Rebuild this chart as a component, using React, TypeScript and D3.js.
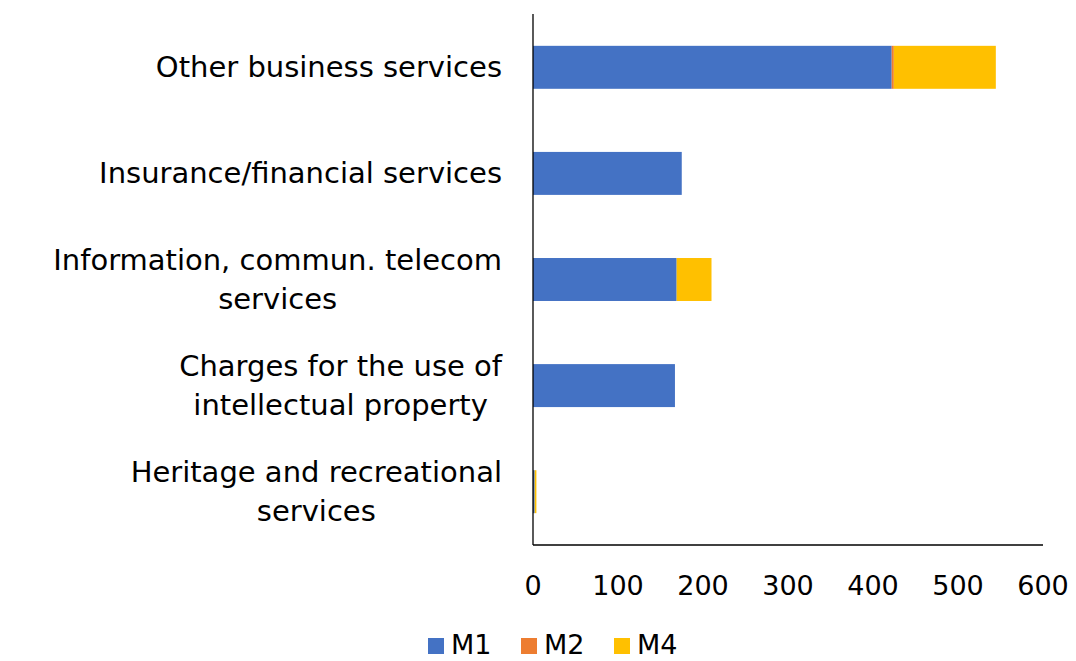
import React, { useEffect, useRef } from "react";
import * as d3 from "d3";

const categories = [
  ["Other business services"],
  ["Insurance/financial services"],
  ["Information, commun. telecom", "services"],
  ["Charges for the use of", "intellectual property"],
  ["Heritage and recreational", "services"],
];
const seriesNames = ["M1", "M2", "M4"];
const seriesColors = ["#4472C4", "#ED7D31", "#FFC000"];
const m1 = [422, 175, 169, 167, 2];
const m2 = [2.5, 0, 0, 0, 0];
const m4 = [120, 0, 41, 0, 2];
const xTicks = [0, 100, 200, 300, 400, 500, 600];

const W = 1076;
const H = 661;
const FONT = "'DejaVu Sans', sans-serif";

export default function App() {
  const ref = useRef<SVGSVGElement>(null);
  useEffect(() => {
    const svg = d3.select(ref.current);
    svg.selectAll("*").remove();
    const left = 533, right = 1043, top = 14, bottom = 545;
    const x = d3.scaleLinear().domain([0, 600]).range([left, right]);
    const y = d3
      .scaleBand<number>()
      .domain(categories.map((_, i) => i))
      .range([top, bottom])
      .paddingInner(0.595)
      .paddingOuter(0.3);

    const rows = categories.map((_, i) => ({ M1: m1[i], M2: m2[i], M4: m4[i], i }));
    const stack = d3.stack<any>().keys(seriesNames)(rows);

    const g = svg.append("g");
    stack.forEach((layer, si) => {
      g.selectAll(null)
        .data(layer)
        .enter()
        .append("rect")
        .attr("x", (d) => x(d[0]))
        .attr("width", (d) => Math.max(0, x(d[1]) - x(d[0])))
        .attr("y", (d: any) => y(d.data.i)!)
        .attr("height", y.bandwidth())
        .attr("fill", seriesColors[si]);
    });

    // axes
    svg.append("line").attr("x1", left).attr("x2", left).attr("y1", top).attr("y2", bottom)
      .attr("stroke", "#000").attr("stroke-width", 1.3);
    svg.append("line").attr("x1", left).attr("x2", right).attr("y1", bottom).attr("y2", bottom)
      .attr("stroke", "#000").attr("stroke-width", 1.3);

    svg.selectAll(null).data(xTicks).enter().append("text")
      .attr("x", (d) => x(d)).attr("y", 595)
      .attr("text-anchor", "middle")
      .attr("font-family", FONT).attr("font-size", 27).attr("fill", "#000")
      .text((d) => String(d));

    // category labels
    const labelRight = 502;
    categories.forEach((lines, i) => {
      const cy = y(i)! + y.bandwidth() / 2;
      const lh = 39;
      const grp = svg.append("g");
      const texts = lines.map((ln, k) =>
        grp.append("text")
          .attr("y", cy + (k - (lines.length - 1) / 2) * lh + 10)
          .attr("font-family", FONT).attr("font-size", 29).attr("fill", "#000")
          .attr("text-anchor", "middle")
          .text(ln)
      );
      const maxW = Math.max(...texts.map((t) => (t.node() as SVGTextElement).getComputedTextLength()));
      texts.forEach((t) => t.attr("x", labelRight - maxW / 2));
    });

    // legend
    const legX = [428, 521, 614];
    seriesNames.forEach((n, i) => {
      svg.append("rect").attr("x", legX[i]).attr("y", 638).attr("width", 16).attr("height", 16)
        .attr("fill", seriesColors[i]);
      svg.append("text").attr("x", legX[i] + 23).attr("y", 654)
        .attr("font-family", FONT).attr("font-size", 27).attr("fill", "#000").text(n);
    });
  }, []);
  return (
    <div style={{ position: "absolute", left: 0, top: 0 }}>
      <svg ref={ref} width={W} height={H} style={{ display: "block", background: "#fff" }} />
    </div>
  );
}
